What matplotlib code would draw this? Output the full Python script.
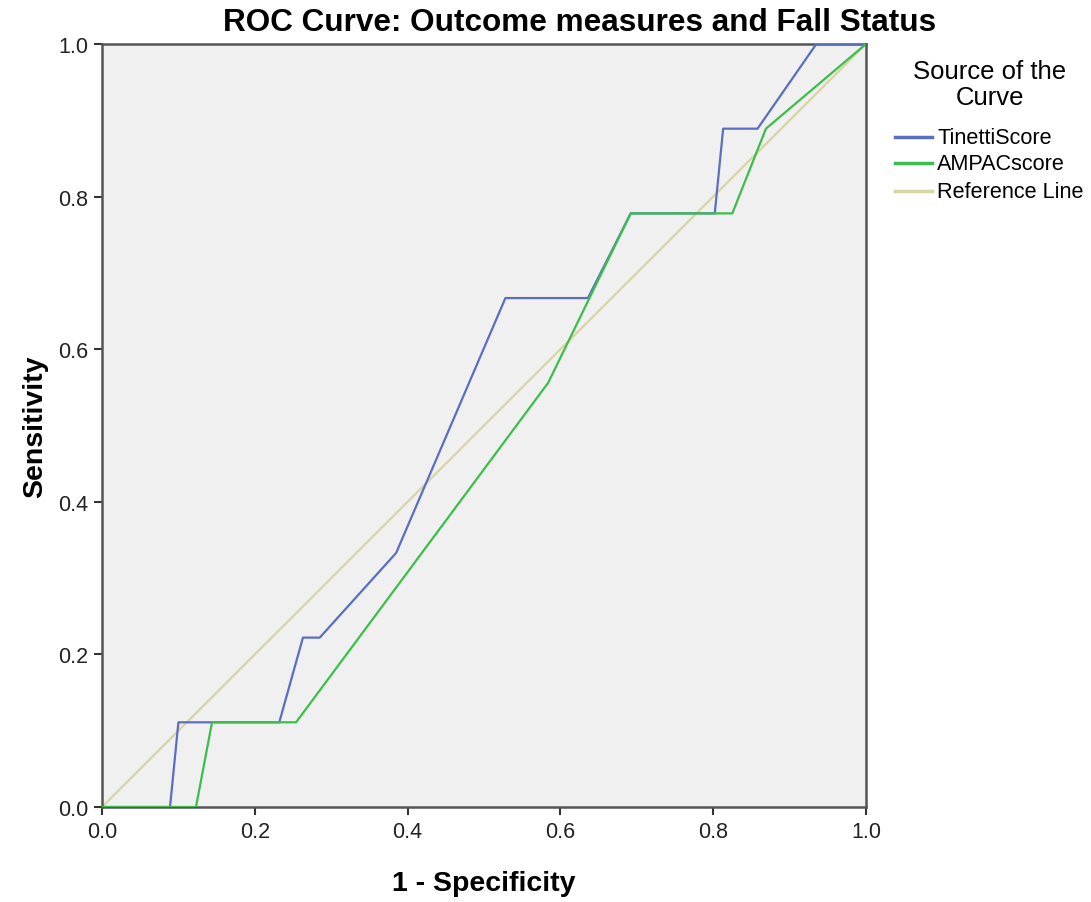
import matplotlib
matplotlib.use('Agg')
import matplotlib.pyplot as plt
from matplotlib.lines import Line2D

plt.rcParams['font.family'] = ['Liberation Sans', 'DejaVu Sans']

# ROC curve data (1 - specificity, sensitivity)
tinetti_fpr = [0.0, 0.089, 0.100, 0.232, 0.263, 0.285, 0.385, 0.528, 0.636, 0.692, 0.802, 0.813, 0.858, 0.935, 1.0]
tinetti_tpr = [0.0, 0.0, 0.111, 0.111, 0.222, 0.222, 0.333, 0.667, 0.667, 0.778, 0.778, 0.889, 0.889, 1.0, 1.0]

ampac_fpr = [0.0, 0.123, 0.144, 0.254, 0.584, 0.692, 0.825, 0.869, 1.0]
ampac_tpr = [0.0, 0.0, 0.111, 0.111, 0.556, 0.778, 0.778, 0.889, 1.0]

ref_x = [0.0, 1.0]
ref_y = [0.0, 1.0]

labels = ['TinettiScore', 'AMPACscore', 'Reference Line']
colors = ['#5A6EC2', '#3CBE4C', '#D8D4A6']

W, H = 1091, 903
fig = plt.figure(figsize=(W / 100, H / 100), dpi=100)
ax = fig.add_axes([0.0935, 0.1052, 0.7003, 0.845])
ax.set_facecolor('#F0F0F0')

ax.plot(ref_x, ref_y, color=colors[2], lw=1.6, zorder=2)
ax.plot(tinetti_fpr, tinetti_tpr, color=colors[0], lw=1.6, zorder=3)
ax.plot(ampac_fpr, ampac_tpr, color=colors[1], lw=1.6, zorder=4)

ax.set_xlim(0, 1)
ax.set_ylim(0, 1)
ticks = [0.0, 0.2, 0.4, 0.6, 0.8, 1.0]
ax.set_xticks(ticks)
ax.set_yticks(ticks)
ax.set_xticklabels(['%.1f' % t for t in ticks])
ax.set_yticklabels(['%.1f' % t for t in ticks])
ax.tick_params(direction='out', length=6, width=1.5, labelsize=15.5, colors='#333333',
               labelcolor='#222222', pad=4)
for s in ax.spines.values():
    s.set_linewidth(1.8)
    s.set_color('#555555')

ax.set_xlabel('1 - Specificity', fontsize=20.5, fontweight='bold', labelpad=20)
ax.set_ylabel('Sensitivity', fontsize=20.5, fontweight='bold', labelpad=7)

fig.text(0.531, 0.974, 'ROC Curve: Outcome measures and Fall Status', ha='center', va='center',
         fontsize=22.7, fontweight='bold')

# legend, laid out by hand (pixel positions from top-left)
fig.text(990 / W, 1 - 72 / H, 'Source of the', ha='center', va='center', fontsize=18.5)
fig.text(990 / W, 1 - 98 / H, 'Curve', ha='center', va='center', fontsize=18.5)
entry_y = [138, 164, 192]
for yy, lab, col in zip(entry_y, labels, colors):
    fig.add_artist(Line2D([895 / W, 932 / W], [1 - yy / H, 1 - yy / H], color=col, lw=2.5,
                          transform=fig.transFigure))
    fig.text(937 / W, 1 - yy / H, lab, ha='left', va='center', fontsize=15.6)

fig.savefig('out.png', dpi=100, facecolor='white')
